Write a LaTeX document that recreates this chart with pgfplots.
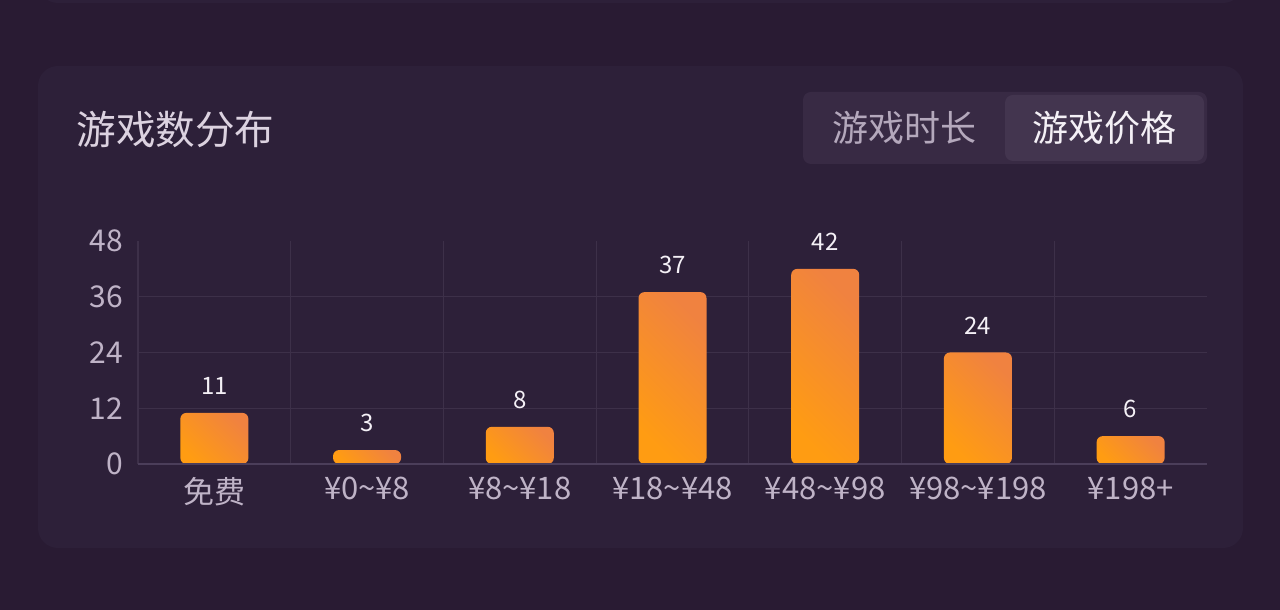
\documentclass[border=0pt]{standalone}
\usepackage{fontspec}
\setmainfont{Noto Sans CJK SC}
\usepackage{pgfplots}
\pgfplotsset{compat=1.18}
\definecolor{bgout}{HTML}{291B33}
\definecolor{card}{HTML}{2D2039}
\definecolor{togglebg}{HTML}{382A44}
\definecolor{togglesel}{HTML}{43354F}
\definecolor{titlecol}{HTML}{DCD2E0}
\definecolor{offcol}{HTML}{B4A8BC}
\definecolor{oncol}{HTML}{F4F0F6}
\definecolor{tickcol}{HTML}{BFB3C7}
\definecolor{gridcol}{HTML}{3D3049}
\definecolor{axiscol}{HTML}{4B3E5A}
\definecolor{orA}{HTML}{FF9C12}
\definecolor{orB}{HTML}{F08240}
\pgfplotsset{
  gbar/.style={ybar, bar width=34pt, bar shift=0pt, draw=none,
    left color=orA, right color=orB, shading angle=135, rounded corners=3pt,
    nodes near coords,
    every node near coord/.append style={anchor=center, yshift=13.5pt, text=oncol, font=\fontsize{12pt}{14pt}\selectfont}},
}
\begin{document}
\begin{tikzpicture}
\clip (0,0) rectangle (640pt,305pt);
\fill[bgout] (0,0) rectangle (640pt,305pt);
\fill[card, rounded corners=10pt] (19pt,303.5pt) rectangle (621.5pt,330pt);
\fill[card, rounded corners=10pt] (19pt,31pt) rectangle (621.5pt,272pt);
\fill[togglebg, rounded corners=4pt] (401.5pt,223pt) rectangle (603.5pt,259pt);
\fill[togglesel, rounded corners=4pt] (502.5pt,224.5pt) rectangle (602pt,257.5pt);
\node[anchor=west, text=titlecol, inner sep=0, font=\fontsize{19.8pt}{22pt}\selectfont] at (38pt,240pt) {游戏数分布};
\node[text=offcol, inner sep=0, font=\fontsize{18pt}{20pt}\selectfont] at (452pt,241pt) {游戏时长};
\node[text=oncol, inner sep=0, font=\fontsize{18pt}{20pt}\selectfont] at (552pt,241pt) {游戏价格};
\begin{axis}[
  at={(69pt,73pt)}, anchor=south west,
  scale only axis, width=534.5pt, height=111.5pt,
  xmin=-0.5, xmax=6.5, ymin=0, ymax=48,
  clip=false,
  axis line style={draw=none},
  major tick length=0pt,
  xtick={0,1,2,3,4,5,6},
  xticklabels={免费,¥0\textasciitilde ¥8,¥8\textasciitilde ¥18,¥18\textasciitilde ¥48,¥48\textasciitilde ¥98,¥98\textasciitilde ¥198,¥198+},
  ytick={0,12,24,36,48},
  extra x ticks={-0.5,0.5,1.5,2.5,3.5,4.5,5.5},
  extra x tick labels={},
  extra x tick style={grid=major},
  extra y ticks={12,24,36},
  extra y tick labels={},
  extra y tick style={grid=major},
  major grid style={draw=gridcol, line width=0.6pt},
  /pgf/number format/assume math mode=true,
  xticklabel style={text=tickcol, font=\fontsize{15.5pt}{17pt}\selectfont, yshift=-3pt},
  yticklabel style={text=tickcol, font=\fontsize{15pt}{17pt}\selectfont, xshift=-4pt},
]
\addplot[gbar] coordinates {(0,11)};
\addplot[gbar] coordinates {(1,3)};
\addplot[gbar] coordinates {(2,8)};
\addplot[gbar] coordinates {(3,37)};
\addplot[gbar] coordinates {(4,42)};
\addplot[gbar] coordinates {(5,24)};
\addplot[gbar] coordinates {(6,6)};
\draw[axiscol, line width=0.9pt] (axis cs:-0.5,0) -- (axis cs:6.5,0);
\end{axis}
\end{tikzpicture}
\end{document}
